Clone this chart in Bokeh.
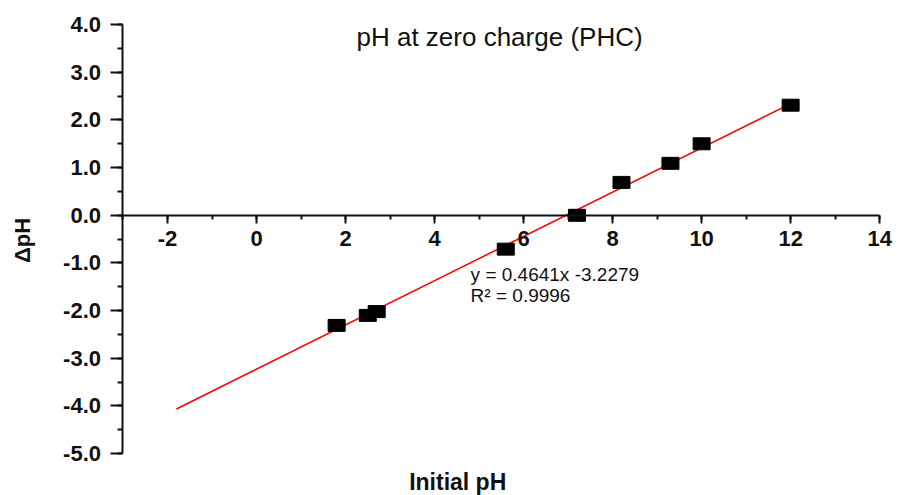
import math
from bokeh.plotting import figure
from bokeh.models import (Range1d, LinearAxis, SingleIntervalTicker, Label,
                          PrintfTickFormatter, ColumnDataSource)
from bokeh.embed import file_html
from bokeh.resources import INLINE

# Data
initial_ph = [1.8, 2.5, 2.7, 5.6, 7.2, 8.2, 9.3, 10.0, 12.0]
delta_ph = [-2.31, -2.10, -2.02, -0.71, 0.0, 0.69, 1.09, 1.50, 2.31]
slope = 0.4641
intercept = -3.2279
fit_x = [-1.8, 12.0]
fit_y = [slope * x + intercept for x in fit_x]

x_ticks_bounds = (-3, 14)
y_ticks_bounds = (-5, 4)

title_text = "pH at zero charge (PHC)"
eq_text = "y = 0.4641x -3.2279"
r2_text = "R\u00b2 = 0.9996"
x_label = "Initial pH"
y_label = "\u0394pH"

FONT = "Liberation Sans"
INK = "#111111"

# Frame covers the whole canvas; axes are drawn at fixed data locations
p = figure(width=899, height=495, x_range=Range1d(-5.752, 14.446),
           y_range=Range1d(-5.878, 4.506),
           output_backend="svg", toolbar_location=None,
           x_axis_location=None, y_axis_location=None,
           min_border_left=0, min_border_right=0, min_border_top=0,
           min_border_bottom=0)
p.outline_line_color = None
p.xgrid.visible = False
p.ygrid.visible = False
p.background_fill_color = "white"
p.border_fill_color = "white"


def style_axis(ax, tick_out, minor_out):
    ax.axis_line_width = 2
    ax.axis_line_color = INK
    ax.major_tick_line_width = 2
    ax.major_tick_line_color = INK
    ax.minor_tick_line_width = 2
    ax.minor_tick_line_color = INK
    ax.major_tick_in = 0
    ax.major_tick_out = tick_out
    ax.minor_tick_in = 0
    ax.minor_tick_out = minor_out
    ax.major_label_text_font = FONT
    ax.major_label_text_font_style = "bold"
    ax.major_label_text_font_size = "22px"
    ax.major_label_text_color = INK


# Y axis at x = -3
ya = LinearAxis(fixed_location=x_ticks_bounds[0], bounds=y_ticks_bounds,
                ticker=SingleIntervalTicker(interval=1, num_minor_ticks=2),
                formatter=PrintfTickFormatter(format="%.1f"))
style_axis(ya, 12, 5)
ya.major_label_standoff = 10
p.add_layout(ya, "left")

# X axis crossing at y = 0
xa = LinearAxis(fixed_location=0, bounds=x_ticks_bounds,
                ticker=SingleIntervalTicker(interval=2, num_minor_ticks=2),
                formatter=PrintfTickFormatter(format="%d"))
style_axis(xa, 8, 4)
xa.major_label_standoff = 8
p.add_layout(xa, "below")

# Fit line
p.line(fit_x, fit_y, line_color="red", line_width=1.5)

# Points
src = ColumnDataSource(dict(x=initial_ph, y=delta_ph))
p.rect("x", "y", width=17, height=12, width_units="screen", height_units="screen",
       source=src, fill_color="black", line_color="black")

# Texts
p.add_layout(Label(x=5.46, y=3.73, text=title_text, text_align="center",
                   text_baseline="middle", text_font=FONT, text_font_size="26px",
                   text_color=INK))
p.add_layout(Label(x=4.81, y=-1.25, text=eq_text, text_align="left",
                   text_baseline="middle", text_font=FONT, text_font_size="19px",
                   text_color=INK))
p.add_layout(Label(x=4.81, y=-1.68, text=r2_text, text_align="left",
                   text_baseline="middle", text_font=FONT, text_font_size="19px",
                   text_color=INK))
p.add_layout(Label(x=4.52, y=-5.86, text=x_label, text_align="center",
                   text_baseline="bottom", text_font=FONT, text_font_size="23px",
                   text_font_style="bold", text_color=INK))
p.add_layout(Label(x=-5.257, y=-0.529, text=y_label, text_align="center",
                   text_baseline="middle", angle=math.pi / 2,
                   text_font=FONT, text_font_size="22px",
                   text_font_style="bold", text_color=INK))

open("out.html", "w").write(file_html(p, INLINE))
